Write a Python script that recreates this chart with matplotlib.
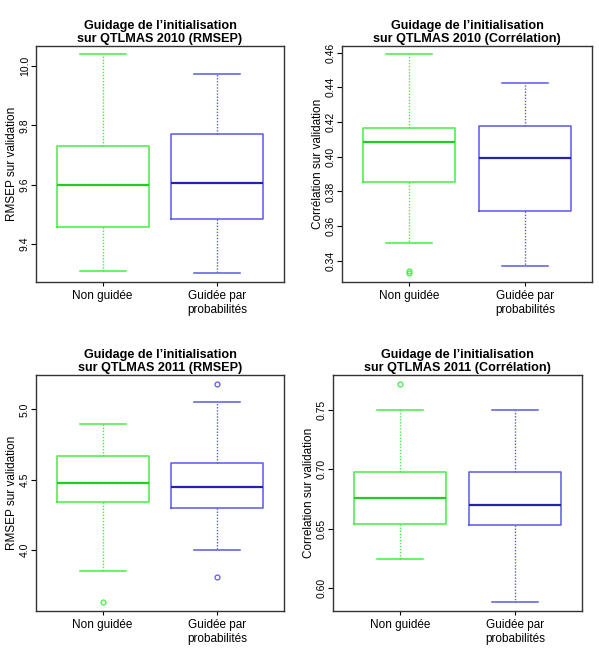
import matplotlib
matplotlib.use("Agg")
import matplotlib.pyplot as plt
from matplotlib.ticker import FormatStrFormatter

plt.rcParams['font.family'] = ['Liberation Sans', 'DejaVu Sans']

groups = ["Non guidée", "Guidée par\nprobabilités"]

# box statistics: (whislo, q1, med, q3, whishi)
rmsep_2010 = [(9.309, 9.456, 9.598, 9.731, 10.039),
              (9.301, 9.485, 9.606, 9.772, 9.972)]
rmsep_2010_out = [[], []]

corr_2010 = [(0.3504, 0.3852, 0.4086, 0.4164, 0.4591),
             (0.3371, 0.3689, 0.3993, 0.4175, 0.4423)]
corr_2010_out = [[0.3330, 0.3340], []]

rmsep_2011 = [(3.853, 4.339, 4.476, 4.666, 4.898),
              (3.998, 4.296, 4.450, 4.618, 5.052)]
rmsep_2011_out = [[3.630], [3.808, 5.182]]

corr_2011 = [(0.6250, 0.6544, 0.6757, 0.6976, 0.7500),
             (0.5882, 0.6536, 0.6701, 0.6979, 0.7500)]
corr_2011_out = [[0.7721], []]

panels = [
    ("Guidage de l\u2019initialisation\nsur QTLMAS 2010 (RMSEP)", "RMSEP sur validation",
     rmsep_2010, rmsep_2010_out, (9.272, 10.067), [9.4, 9.6, 9.8, 10.0], "%.1f"),
    ("Guidage de l\u2019initialisation\nsur QTLMAS 2010 (Corrélation)", "Corrélation sur validation",
     corr_2010, corr_2010_out, (0.3277, 0.4639), [0.34, 0.36, 0.38, 0.40, 0.42, 0.44, 0.46], "%.2f"),
    ("Guidage de l\u2019initialisation\nsur QTLMAS 2011 (RMSEP)", "RMSEP sur validation",
     rmsep_2011, rmsep_2011_out, (3.566, 5.244), [4.0, 4.5, 5.0], "%.1f"),
    ("Guidage de l\u2019initialisation\nsur QTLMAS 2011 (Corrélation)", "Correlation sur validation",
     corr_2011, corr_2011_out, (0.5809, 0.7794), [0.60, 0.65, 0.70, 0.75], "%.2f"),
]

positions = [
    [36 / 599, (657 - 282) / 657, 248 / 599, 236 / 657],
    [342 / 599, (657 - 282) / 657, 250 / 599, 236 / 657],
    [36 / 599, (657 - 611) / 657, 248 / 599, 236 / 657],
    [333 / 599, (657 - 611) / 657, 249 / 599, 236 / 657],
]

box_colors = ["#44ee44", "#5a5ae6"]
med_colors = ["#22cc22", "#2222aa"]

fig = plt.figure(figsize=(5.99, 6.57), dpi=100)

for (title, ylabel, stats, outs, ylim, yticks, fmt), pos in zip(panels, positions):
    ax = fig.add_axes(pos)
    for i, (s, fl) in enumerate(zip(stats, outs)):
        d = dict(whislo=s[0], q1=s[1], med=s[2], q3=s[3], whishi=s[4], fliers=fl)
        c = box_colors[i]
        ax.bxp([d], positions=[i + 1], widths=0.8, capwidths=0.4,
               boxprops=dict(color=c, linewidth=1.1),
               whiskerprops=dict(color=c, linewidth=1.0, linestyle=(0, (1, 1.2))),
               capprops=dict(color=c, linewidth=1.1),
               medianprops=dict(color=med_colors[i], linewidth=1.6),
               flierprops=dict(marker='o', markerfacecolor='none', markeredgecolor=c,
                               markersize=3.5, markeredgewidth=0.9))
    ax.set_xlim(0.42, 2.58)
    ax.set_ylim(*ylim)
    ax.set_xticks([1, 2])
    ax.set_xticklabels(groups, fontsize=8.5)
    ax.set_yticks(yticks)
    ax.yaxis.set_major_formatter(FormatStrFormatter(fmt))
    ax.tick_params(axis='y', labelsize=7.5, labelrotation=90, length=3.5, pad=1)
    ax.tick_params(axis='x', length=3, pad=3)
    for lab in ax.get_yticklabels():
        lab.set_verticalalignment('center')
    ax.set_ylabel(ylabel, fontsize=8.5, labelpad=1)
    ax.set_title(title, fontsize=9.1, fontweight='bold', pad=3, linespacing=1.1)
    for sp in ax.spines.values():
        sp.set_color('#333333')
        sp.set_linewidth(1.0)

fig.savefig("out.png", dpi=100)
